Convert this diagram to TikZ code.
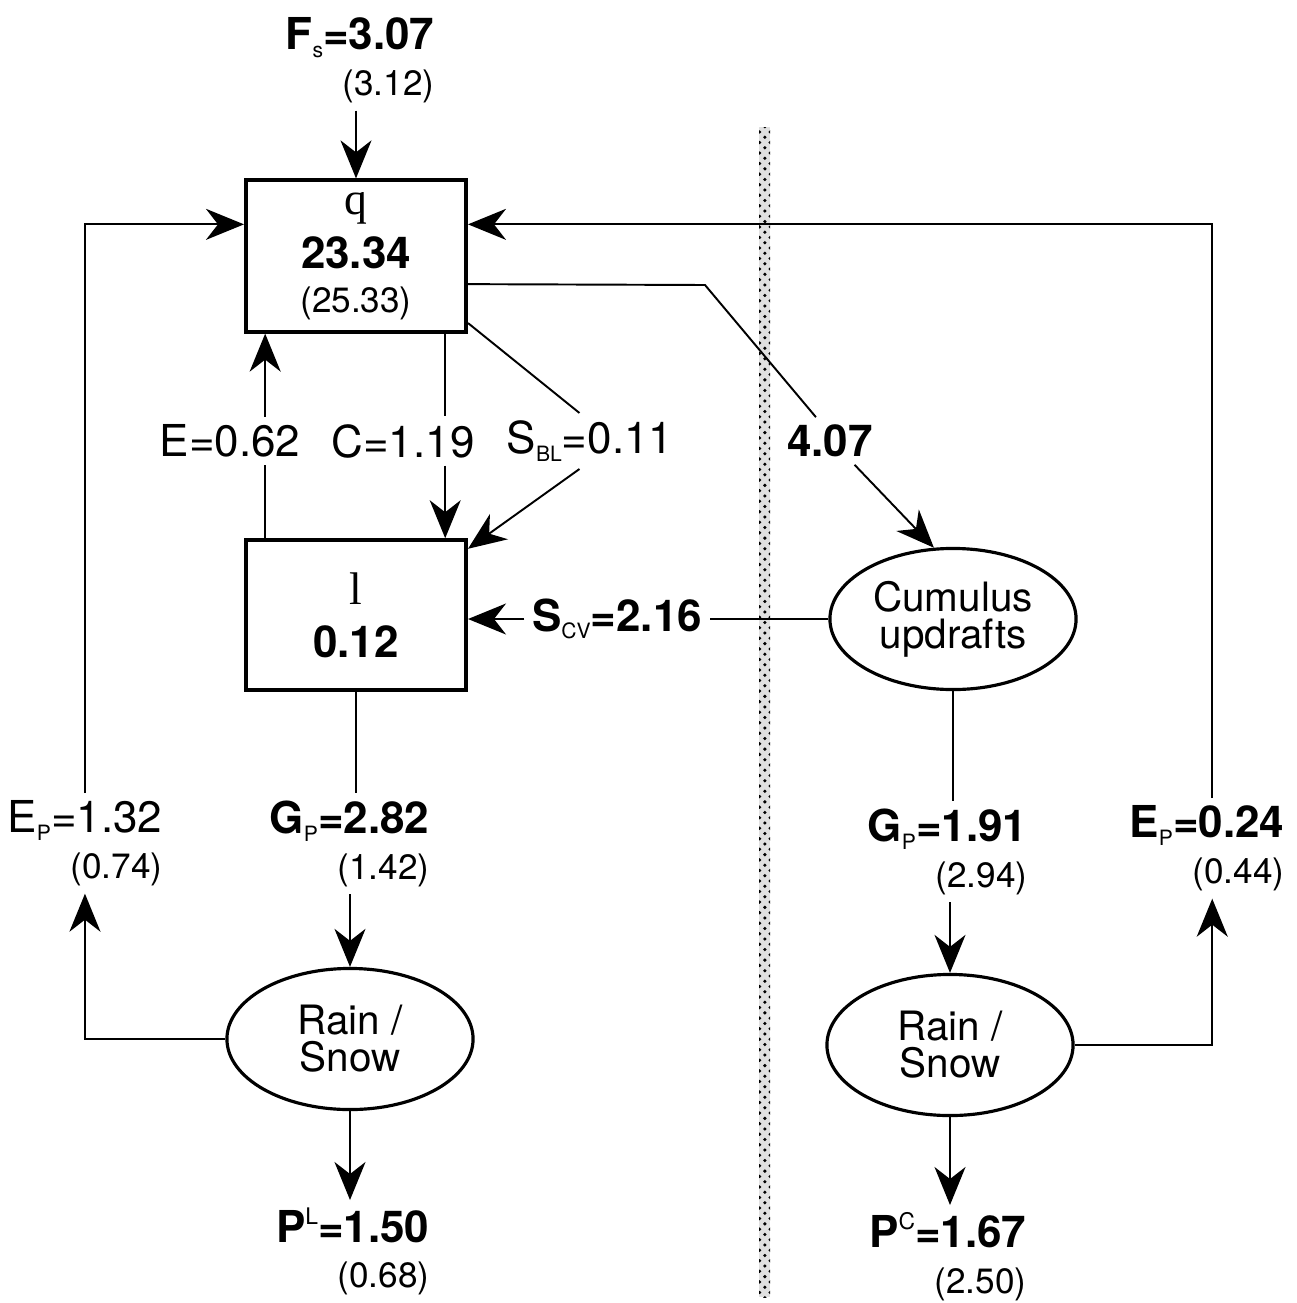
\documentclass[tikz,border=0pt]{standalone}
\usepackage{fontspec}
\setmainfont{TeX Gyre Heros}
\newfontfamily\boxletter{Liberation Serif}
\usetikzlibrary{arrows.meta, positioning, patterns, shapes.geometric}

\newcommand{\lowidx}[1]{\raisebox{-2.2pt}{\fontsize{6}{6}\selectfont\mdseries #1}}
\newcommand{\upidx}[1]{\raisebox{5pt}{\fontsize{6.5}{6.5}\selectfont\mdseries #1}}
\newcommand{\val}[1]{{\fontsize{10}{12}\selectfont\mdseries (#1)}}

\begin{document}
\begin{tikzpicture}[x=0.01cm, y=-0.01cm, >={Stealth[length=3.8mm, width=3.1mm, inset=1.2mm]}, font=\fontsize{12.5}{14}\selectfont, box/.style={rectangle, draw, line width=1.1pt, minimum width=2.2cm, minimum height=1.5cm, align=center}, blob/.style={ellipse, draw, line width=0.9pt, minimum width=2.46cm, minimum height=1.41cm, inner sep=0pt, align=center, font=\fontsize{11.5}{10.5}\selectfont}, lbl/.style={inner sep=2pt, font=\fontsize{12.5}{14}\selectfont\bfseries}, flux/.style={inner sep=2pt, align=right, anchor=north east, font=\fontsize{12.5}{13}\selectfont\bfseries}, flow/.style={->, line width=0.55pt}, line/.style={line width=0.55pt}]
\useasboundingbox (0,0) rectangle (1296,1303);
% separator between large-scale and convective parts
\fill[black!12] (759,127) rectangle (770,1297);
\fill[pattern=crosshatch dots, pattern color=black] (759,127) rectangle (770,1297);
% reservoirs
\node [box] (q) at (356,256) {{\boxletter\fontsize{13}{14}\selectfont q}\\[1.5pt]{\bfseries 23.34}\\[-1.5pt]\val{25.33}};
\node [box, below of=q, node distance=3.59cm] (l) {{\boxletter\fontsize{13}{14}\selectfont l}\\[1pt]{\bfseries 0.12}};
\node [blob] (cu) at (953,619) {Cumulus\\updrafts};
\node [blob] (rl) at (350,1039) {Rain /\\Snow};
\node [blob] (rr) at (950,1045) {Rain /\\Snow};
% fluxes
\node [flux] (fs) at (442,10) {F\lowidx{s}=3.07\\\val{3.12}};
\node [lbl, font=\fontsize{12.5}{14}\selectfont] (e) at (230,441) {E=0.62};
\node [lbl, font=\fontsize{12.5}{14}\selectfont] (c) at (403,441) {C=1.19};
\node [lbl, font=\fontsize{12.5}{14}\selectfont] (sbl) at (590,441) {S\lowidx{BL}=0.11};
\node [lbl] (n407) at (830,441) {4.07};
\node [lbl] (scv) at (617,619) {S\lowidx{CV}=2.16};
\node [flux, font=\fontsize{12.5}{13}\selectfont] (epl) at (170,793) {E\lowidx{P}=1.32\\\val{0.74}};
\node [flux] (gpl) at (437,793) {G\lowidx{P}=2.82\\\val{1.42}};
\node [flux] (gpr) at (1035,801) {G\lowidx{P}=1.91\\\val{2.94}};
\node [flux] (epr) at (1292,798) {E\lowidx{P}=0.24\\\val{0.44}};
\node [flux] (pl) at (437,1200) {P\upidx{L}=1.50\\\val{0.68}};
\node [flux] (pr) at (1034,1205) {P\upidx{C}=1.67\\\val{2.50}};
\coordinate (kink) at (705,285);

\draw [flow] (fs.south -| q.north) -- (q.north);
\draw [line] ([xshift=10pt]e.south |- l.north) -- ([xshift=10pt]e.south);
\draw [flow] ([xshift=10pt]e.north) -- ([xshift=10pt]e.north |- q.south);
\draw [line] ([xshift=12pt]c.north |- q.south) -- ([xshift=12pt]c.north);
\draw [flow] ([xshift=12pt]c.south) -- ([xshift=12pt]c.south |- l.north);
\draw [line] ([yshift=3pt]q.south east) -- ([xshift=-3pt]sbl.north);
\draw [flow] ([xshift=-3pt]sbl.south) -- ([yshift=-3pt]l.north east);
\draw [line] ([yshift=-8pt]q.east) -- (kink) -- ([xshift=-4pt]n407.north);
\draw [flow] ([xshift=7pt]n407.south) -- (cu.105);
\draw [line] (cu.west) -- (cu.west -| scv.east);
\draw [flow] (scv.west) -- (scv.west -| l.east);
\draw [line] (l.south) -- (l.south |- gpl.north);
\draw [flow] (rl.north |- gpl.south) -- (rl.north);
\draw [line] (cu.south) -- (cu.south |- gpr.north);
\draw [flow] (rr.north |- gpr.south) -- (rr.north);
\draw [flow] (rl.west) -| (epl.south);
\draw [flow] (epl.north) |- ([yshift=9pt]q.west);
\draw [flow] (rr.east) -| ([xshift=1.5pt]epr.south);
\draw [flow] ([xshift=1.5pt]epr.north) |- ([yshift=9pt]q.east);
\draw [flow] (rl.south) -- (rl.south |- pl.north);
\draw [flow] (rr.south) -- (rr.south |- pr.north);
\end{tikzpicture}
\end{document}
